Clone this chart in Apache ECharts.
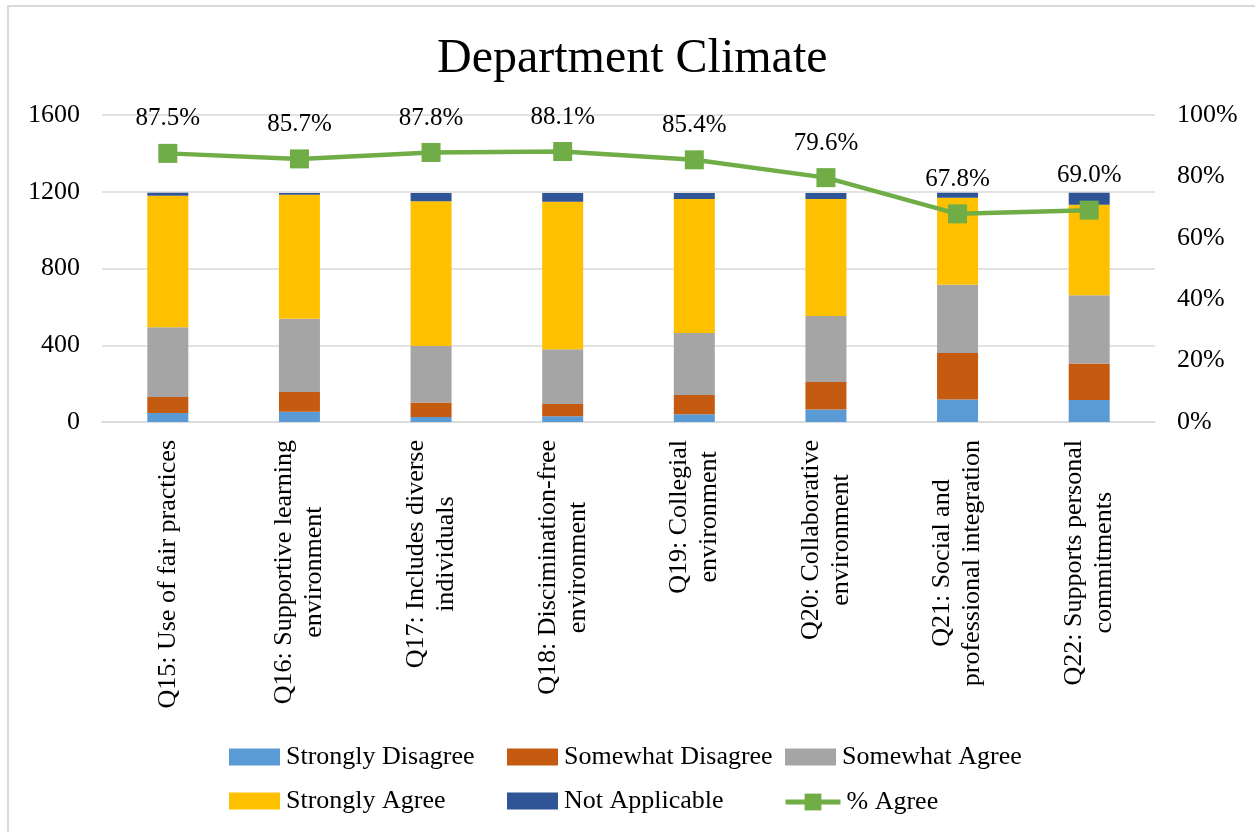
<!DOCTYPE html>
<html>
<head>
<meta charset="utf-8">
<title>Department Climate</title>
<script src="https://cdn.jsdelivr.net/npm/echarts@6/dist/echarts.min.js"></script>
<style>
  html, body { margin: 0; padding: 0; background: #ffffff; }
  #chart { width: 1255px; height: 832px; }
</style>
</head>
<body>
<div id="chart"></div>
<script>
// Survey questions (x-axis categories)
const categories = [
  'Q15: Use of fair practices',
  'Q16: Supportive learning\nenvironment',
  'Q17: Includes diverse\nindividuals',
  'Q18: Discimination-free\nenvironment',
  'Q19: Collegial\nenvironment',
  'Q20: Collaborative\nenvironment',
  'Q21: Social and\nprofessional integration',
  'Q22: Supports personal\ncommitments'
];

// Response counts per question
const stronglyDisagree = [47, 54, 26, 30, 40, 65, 117, 115];
const somewhatDisagree = [83, 103, 75, 64, 101, 144, 243, 190];
const somewhatAgree    = [364, 381, 295, 285, 323, 344, 355, 356];
const stronglyAgree    = [685, 647, 755, 769, 698, 609, 454, 471];
const notApplicable    = [16, 9, 42, 45, 31, 31, 26, 63];

// Share of respondents who agree (percent)
const pctAgree = [87.5, 85.7, 87.8, 88.1, 85.4, 79.6, 67.8, 69.0];

// Axis ticks
const countTicks = [0, 400, 800, 1200, 1600];
const pctTicks = [0, 20, 40, 60, 80, 100];

const FONT = '"Liberation Serif", "Times New Roman", serif';
const TEXT = '#000000';
const GRIDLINE = '#d9d9d9';
const GREEN = '#70AD47';

const chart = echarts.init(document.getElementById('chart'), null, { renderer: 'canvas' });

function barSeries(name, data, color) {
  return {
    name: name,
    type: 'bar',
    stack: 'responses',
    data: data,
    barWidth: 41,
    itemStyle: { color: color },
    emphasis: { disabled: true }
  };
}

function legendAt(name, left, top, extra) {
  return Object.assign({
    data: [name],
    left: left,
    top: top,
    icon: 'rect',
    itemWidth: 51,
    itemHeight: 17,
    itemGap: 0,
    selectedMode: false,
    textStyle: { fontFamily: FONT, fontSize: 26, color: TEXT, padding: [0, 0, 0, 1] }
  }, extra || {});
}

const option = {
  backgroundColor: '#ffffff',
  animation: false,
  textStyle: { fontFamily: FONT },
  title: {
    text: 'Department Climate',
    left: 432,
    top: 30,
    textStyle: { fontFamily: FONT, fontSize: 48, fontWeight: 'normal', color: TEXT }
  },
  graphic: [{
    type: 'rect',
    shape: { x: 8, y: 6, width: 1300, height: 900 },
    style: { fill: 'none', stroke: GRIDLINE, lineWidth: 2 },
    silent: true,
    z: -1
  }],
  legend: [
    legendAt('Strongly Disagree', 224, 739),
    legendAt('Somewhat Disagree', 502, 739),
    legendAt('Somewhat Agree', 780, 739),
    legendAt('Strongly Agree', 224, 783),
    legendAt('Not Applicable', 502, 783),
    legendAt('% Agree', 778, 784, {
      icon: null,
      itemWidth: 55,
      itemHeight: 21,
      lineStyle: { width: 5, color: GREEN },
      itemStyle: { color: GREEN }
    })
  ],
  grid: {
    left: 102,
    right: 100,
    top: 115,
    bottom: 410,
    containLabel: false,
    outerBoundsMode: 'none'
  },
  xAxis: {
    type: 'category',
    data: categories,
    boundaryGap: true,
    axisLine: { show: true, lineStyle: { color: GRIDLINE, width: 1.5 } },
    axisTick: { show: false },
    axisLabel: {
      rotate: 90,
      interval: 0,
      margin: 18,
      color: TEXT,
      align: 'right',
      // each line is centred within the label block
      formatter: function (v) {
        return v.split('\n').map(function (l) { return '{c|' + l + '}'; }).join('\n');
      },
      rich: {
        c: { align: 'center', fontFamily: FONT, fontSize: 26, lineHeight: 30, color: TEXT }
      }
    }
  },
  yAxis: [
    {
      type: 'value',
      min: countTicks[0],
      max: countTicks[countTicks.length - 1],
      interval: countTicks[1] - countTicks[0],
      axisLine: { show: false },
      axisTick: { show: false },
      splitLine: { lineStyle: { color: GRIDLINE, width: 1.5 } },
      axisLabel: {
        margin: 22, fontFamily: FONT, fontSize: 26, color: TEXT,
        formatter: function (v) { return String(v); }
      }
    },
    {
      type: 'value',
      min: pctTicks[0],
      max: pctTicks[pctTicks.length - 1],
      interval: pctTicks[1] - pctTicks[0],
      axisLine: { show: false },
      axisTick: { show: false },
      splitLine: { show: false },
      axisLabel: { margin: 22, fontFamily: FONT, fontSize: 26, color: TEXT, formatter: '{value}%' }
    }
  ],
  series: [
    barSeries('Strongly Disagree', stronglyDisagree, '#5B9BD5'),
    barSeries('Somewhat Disagree', somewhatDisagree, '#C55A11'),
    barSeries('Somewhat Agree', somewhatAgree, '#A5A5A5'),
    barSeries('Strongly Agree', stronglyAgree, '#FFC000'),
    barSeries('Not Applicable', notApplicable, '#2F5597'),
    {
      name: '% Agree',
      type: 'line',
      yAxisIndex: 1,
      data: pctAgree,
      symbol: 'rect',
      symbolSize: 19,
      lineStyle: { color: GREEN, width: 4.5 },
      itemStyle: { color: GREEN },
      emphasis: { disabled: true },
      z: 10,
      label: {
        show: true,
        position: 'top',
        distance: 12,
        fontFamily: FONT,
        fontSize: 25,
        lineHeight: 26,
        color: TEXT,
        formatter: function (p) { return p.value.toFixed(1) + '%'; }
      }
    }
  ]
};

chart.setOption(option);
</script>
</body>
</html>
